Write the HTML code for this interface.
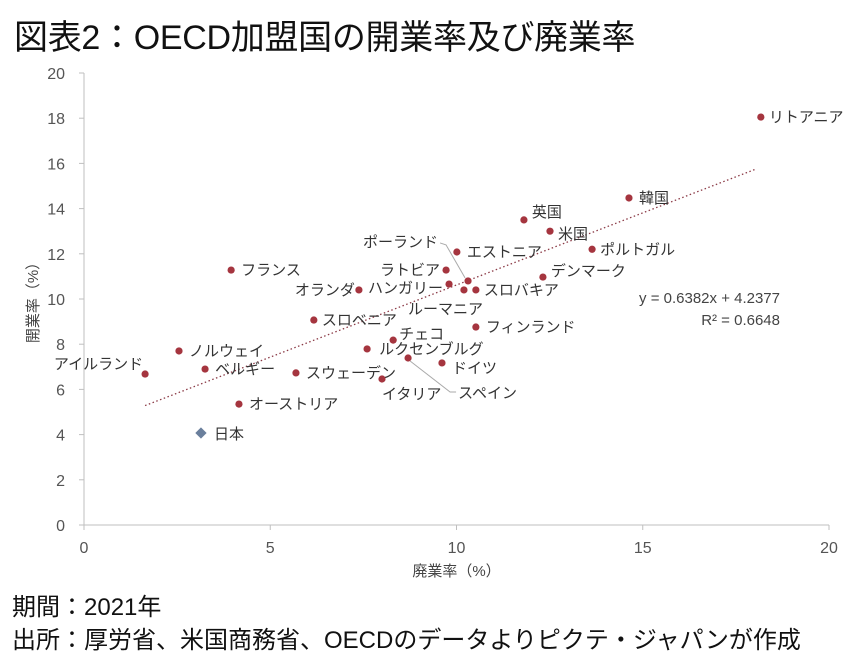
<!DOCTYPE html>
<html><head><meta charset="utf-8">
<style>
body{margin:0;background:#fff;width:859px;height:656px;overflow:hidden;font-family:"Liberation Sans","Noto Sans CJK JP",sans-serif;}
#title{position:absolute;left:14px;top:10px;font-size:34px;color:#111;letter-spacing:-0.3px;}
.note{position:absolute;left:12px;font-size:24px;color:#111;}
svg{position:absolute;left:0;top:0;}
</style></head><body>
<div id="title">図表2：OECD加盟国の開業率及び廃業率</div>
<div class="note" style="top:587px">期間：2021年</div>
<div class="note" style="top:620px">出所：厚労省、米国商務省、OECDのデータよりピクテ・ジャパンが作成</div>
<svg id="chart" width="859" height="656"></svg>
<script>
const countries=["リトアニア","韓国","英国","米国","デンマーク","ポルトガル","エストニア","ラトビア","ハンガリー","ポーランド","ルーマニア","スロバキア","オランダ","フランス","スロベニア","フィンランド","チェコ","ルクセンブルグ","スペイン","ドイツ","スウェーデン","イタリア","ノルウェイ","アイルランド","ベルギー","オーストリア"];
const closureRates=[18.17,14.63,11.81,12.51,12.32,13.64,10.01,9.72,9.8,10.31,10.2,10.52,7.38,3.95,6.17,10.52,8.3,7.6,8.7,9.61,5.69,8.0,2.55,1.64,3.25,4.16];
const openingRates=[18.05,14.47,13.5,13.0,10.97,12.2,12.08,11.28,10.66,10.8,10.4,10.4,10.4,11.28,9.07,8.76,8.18,7.79,7.39,7.17,6.73,6.46,7.7,6.68,6.9,5.35];
const japanX=[3.14], japanY=[4.07];
const xTicks=[0,5,10,15,20];
const yTicks=[0,2,4,6,8,10,12,14,16,18,20];
const trend={slope:0.6382,intercept:4.2377,x0:1.64,x1:18.0};
// label placement (style, not data): [dx,dy,anchor]
const labelPos=[[8,5,"start"],[10,5,"start"],[8,-3,"start"],[8,8,"start"],[8,-1,"start"],[8,5,"start"],[10,5,"start"],[-6,5,"end"],[-6,9,"end"],[-30,-34,"end"],[-56,24,"start"],[8,5,"start"],[-4,5,"end"],[10,5,"start"],[8,5,"start"],[10,5,"start"],[6,-1,"start"],[12,5,"start"],[50,40,"start"],[10,10,"start"],[10,5,"start"],[0,20,"start"],[10,5,"start"],[-2,-5,"end"],[10,5,"start"],[10,5,"start"]];
const svg=document.getElementById('chart');
const NS="http://www.w3.org/2000/svg";
const X0=84,X1=829,Y0=525,Y1=73;
const sx=v=>X0+(v-0)/20*(X1-X0);
const sy=v=>Y0-(v-0)/20*(Y0-Y1);
function mk(t,a,p){const e=document.createElementNS(NS,t);for(const k in a)e.setAttribute(k,a[k]);(p||svg).appendChild(e);return e;}
const fs="Liberation Sans, Noto Sans CJK JP, sans-serif";
let ax=mk('line',{x1:X0,y1:Y0,x2:X1,y2:Y0,stroke:'#bfbfbf','stroke-width':1});


let ay=mk('line',{x1:X0,y1:Y0,x2:X0,y2:Y1,stroke:'#bfbfbf','stroke-width':1});


xTicks.forEach(v=>{
 let tk=mk('line',{x1:sx(v),y1:Y0,x2:sx(v),y2:Y0+5,stroke:'#bfbfbf'});
 
 
 let t=mk('text',{x:sx(v),y:Y0+28,'text-anchor':'middle','font-size':16,fill:'#555','font-family':fs});
 t.textContent=v;
 
 
});
yTicks.forEach(v=>{
 let tk=mk('line',{x1:X0-5,y1:sy(v),x2:X0,y2:sy(v),stroke:'#bfbfbf'});
 
 
 let t=mk('text',{x:X0-19,y:sy(v)+6,'text-anchor':'end','font-size':16,fill:'#555','font-family':fs});
 t.textContent=v;
 
 
});
let xt=mk('text',{x:(X0+X1)/2,y:576,'text-anchor':'middle','font-size':15,fill:'#444','font-family':fs});
xt.textContent='廃業率（%）';


let yt=mk('text',{x:0,y:0,'text-anchor':'middle','font-size':15,fill:'#444','font-family':fs,transform:`translate(38,${(Y0+Y1)/2}) rotate(-90)`});
yt.textContent='開業率（%）';


let tl=mk('line',{x1:sx(trend.x0),y1:sy(trend.slope*trend.x0+trend.intercept),x2:sx(trend.x1),y2:sy(trend.slope*trend.x1+trend.intercept),stroke:'#8b3a46','stroke-width':1.3,'stroke-dasharray':'1.5,2.5'});


let eq=mk('text',{x:780,y:303,'text-anchor':'end','font-size':15,fill:'#444','font-family':fs});
eq.textContent='y = 0.6382x + 4.2377';


let r2=mk('text',{x:780,y:325,'text-anchor':'end','font-size':15,fill:'#444','font-family':fs});
r2.textContent='R² = 0.6648';


{let i=9;let px=sx(closureRates[i]),py=sy(openingRates[i]);let l=mk('polyline',{points:`${px-3},${py-3} ${px-22},${py-36} ${px-28},${py-38}`,fill:'none',stroke:'#aaa'});}
{let i=18;let px=sx(closureRates[i]),py=sy(openingRates[i]);let l=mk('polyline',{points:`${px+2},${py+3} ${px+42},${py+34} ${px+48},${py+34}`,fill:'none',stroke:'#aaa'});}
countries.forEach((c,i)=>{
 const px=sx(closureRates[i]),py=sy(openingRates[i]);
 let d=mk('circle',{cx:px,cy:py,r:3.6,fill:'#a5353f'});
 
 
 const lp=labelPos[i];
 let t=mk('text',{x:px+lp[0],y:py+lp[1],'text-anchor':lp[2],'font-size':15,fill:'#333','font-family':fs});
 t.textContent=c;
 
 
});
const jx=sx(japanX[0]),jy=sy(japanY[0]);
let jd=mk('rect',{x:jx-4,y:jy-4,width:8,height:8,fill:'#6a7f9c',transform:`rotate(45 ${jx} ${jy})`});


let jt=mk('text',{x:jx+13,y:jy+6,'font-size':15,fill:'#333','font-family':fs});
jt.textContent='日本';


</script>
</body></html>
